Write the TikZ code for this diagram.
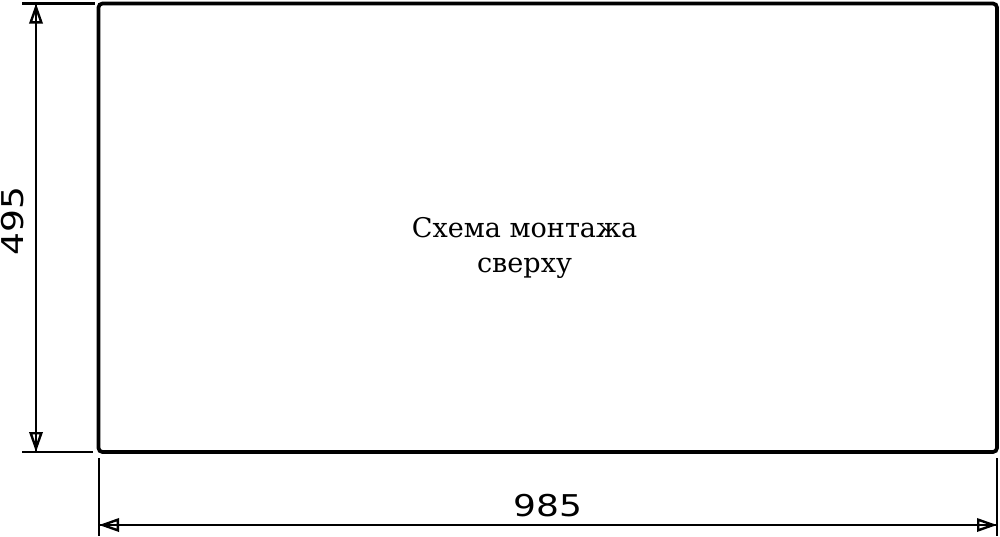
\documentclass[tikz,border=0pt]{standalone}
\usepackage{fontspec}
\setmainfont{DejaVu Serif}
\newfontfamily\dimfont{DejaVu Sans}
\usetikzlibrary{arrows.meta}
\begin{document}
\begin{tikzpicture}[x=0.75pt,y=-0.75pt,
  outline/.style={line width=2.8pt, rounded corners=3pt},
  extline/.style={line width=2pt},
  dimline/.style={line width=1.8pt},
  dimtips/.style={line width=1.8pt, {Triangle[open,length=15pt,width=10pt]}-{Triangle[open,length=15pt,width=10pt]}},
  dimtext/.style={font=\dimfont\fontsize{22.5}{27}\selectfont, inner sep=0pt},
  caption/.style={font=\fontsize{20.3}{26}\selectfont, inner sep=0pt}]
\useasboundingbox (0,0) rectangle (1000,536);
% plate outline
\draw[outline] (98.5,3.5) rectangle (997,452);
% left dimension (495)
\coordinate (lt) at (36,3.5);
\coordinate (lb) at (36,452);
\draw[extline] (22,3.5) -- (95,3.5);
\draw[extline] (22,452) -- (93,452);
\draw[dimline] (lt) -- (lb);
\draw[dimtips] (lt) -- (lb);
\node[dimtext, rotate=90] (h) at (12.5,221) {\scalebox{1.2}[1]{495}};
% bottom dimension (985)
\coordinate (bl) at (99,525);
\coordinate (br) at (997,525);
\draw[extline] (99,458) -- (99,536);
\draw[extline] (997,458) -- (997,536);
\draw[dimline] (bl) -- (br);
\draw[dimtips] (bl) -- (br);
\node[dimtext] (w) at (548,506) {\scalebox{1.2}[1]{985}};
% caption
\node[caption, anchor=base] (c1) at (524.5,237) {Схема монтажа};
\node[caption, anchor=base] (c2) at (524.5,272) {сверху};
\end{tikzpicture}
\end{document}
